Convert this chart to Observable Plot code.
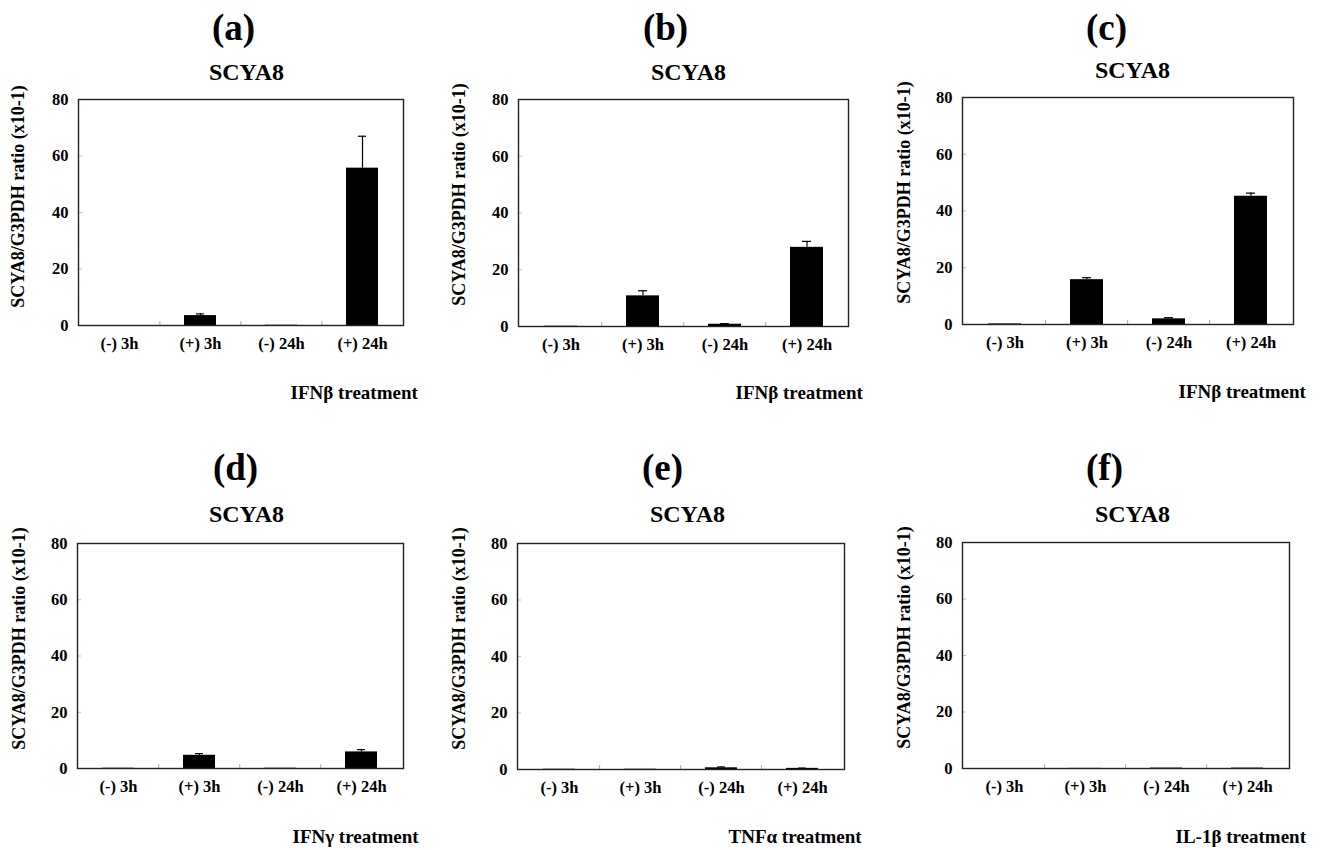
<!DOCTYPE html>
<html><head><meta charset="utf-8">
<script src="https://cdn.jsdelivr.net/npm/d3@7"></script>
<script src="https://cdn.jsdelivr.net/npm/@observablehq/plot@0.6"></script>
<style>
body{margin:0;background:#fff;}
#root{position:relative;width:1323px;height:850px;overflow:hidden;background:#fff;}
.panel{position:absolute;}
.panel svg{overflow:visible;}
</style></head><body><div id="root"></div>
<script>
// ---- data ----
const categories = ["(-) 3h", "(+) 3h", "(-) 24h", "(+) 24h"];
const panelLetters = ["(a)", "(b)", "(c)", "(d)", "(e)", "(f)"];
const geneTitle = "SCYA8";
const yLabel = "SCYA8/G3PDH ratio (x10-1)";
const treatments = ["IFNβ treatment", "IFNβ treatment", "IFNβ treatment", "IFNγ treatment", "TNFα treatment", "IL-1β treatment"];
const yTicks = [0, 20, 40, 60, 80];

const meanA = [0, 3.5, 0.1, 55.7];
const errA  = [0, 0.6, 0, 11.3];
const meanB = [0.1, 10.8, 0.8, 27.9];
const errB  = [0, 1.8, 0.2, 2.1];
const meanC = [0.2, 15.8, 2.0, 45.2];
const errC  = [0, 0.7, 0.4, 1.1];
const meanD = [0.1, 4.7, 0.1, 5.9];
const errD  = [0, 0.6, 0, 0.8];
const meanE = [0.1, 0.1, 0.6, 0.4];
const errE  = [0, 0, 0.3, 0.1];
const meanF = [0, 0.05, 0.15, 0.15];
const errF  = [0, 0, 0, 0];

const means = [meanA, meanB, meanC, meanD, meanE, meanF];
const errs = [errA, errB, errC, errD, errE, errF];

// ---- layout (page pixel positions) ----
const layout = [
  {cell:[0,0,440,430],   frame:[78,99,403,325],   title:[233,28],  sub:[246,72],  ylab:[18,196],  trt:[290,392]},
  {cell:[440,0,440,430], frame:[518,99,848,326],  title:[665,28],  sub:[688,72],  ylab:[459,194], trt:[735,392]},
  {cell:[880,0,443,430], frame:[962,97,1293,324], title:[1106,28], sub:[1132,70], ylab:[904,192], trt:[1178,391]},
  {cell:[0,440,440,410],   frame:[77,543,403,768],  title:[235,468],  sub:[246,514],  ylab:[19,638],  trt:[292,836]},
  {cell:[440,440,440,410], frame:[517,543,844,769], title:[662,468],  sub:[687,514],  ylab:[459,638], trt:[728,836]},
  {cell:[880,440,443,410], frame:[962,542,1289,768], title:[1104,468], sub:[1132,514], ylab:[904,637], trt:[1175,836]}
];

const font = "'Liberation Serif','Times New Roman',Times,serif";
const root = document.getElementById("root");

layout.forEach((L, i) => {
  const [cx, cy, cw, ch] = L.cell;
  const [fl, ft, fr, fb] = L.frame;
  const rows = categories.map((c, j) => ({cat: c, value: means[i][j], err: errs[i][j]}));
  const errRows = rows.filter(d => d.err > 0);
  const fw = fr - fl;
  const step = fw / categories.length;
  const fh = fb - ft;
  const at = (p) => ({frameAnchor: "top-left", dx: p[0] - fl, dy: p[1] - ft});

  const chart = Plot.plot({
    width: cw, height: ch,
    marginLeft: fl - cx, marginTop: ft - cy, marginRight: cx + cw - fr, marginBottom: cy + ch - fb,
    style: {fontFamily: font, fontWeight: "bold", fontSize: "16px", color: "#000", background: "#fff", overflow: "visible"},
    x: {type: "band", domain: categories, paddingInner: 0.6, paddingOuter: 0.3},
    y: {domain: [0, 80]},
    marks: [
      Plot.barY(rows, {x: "cat", y: "value", fill: "#000"}),
      Plot.ruleX(errRows, {x: "cat", y1: "value", y2: d => d.value + d.err, stroke: "#000", strokeWidth: 1.2}),
      Plot.tickY(errRows, {x: "cat", y: d => d.value + d.err, stroke: "#000", strokeWidth: 1.2, inset: 12}),
      Plot.ruleX(categories.slice(1), {x: d => d, dx: -step / 2, insetTop: fh - 4, stroke: "#aaa"}),
      Plot.ruleY(yTicks.slice(1, -1), {y: d => d, insetRight: fw - 4, stroke: "#bbb"}),
      Plot.frame({stroke: "#222", strokeWidth: 1.4}),
      Plot.axisX({tickSize: 0, tickPadding: 12, label: null, fontSize: 16.5}),
      Plot.axisY({ticks: yTicks, tickSize: 0, tickPadding: 10, label: null, tickFormat: d => d, fontSize: 16.5}),
      Plot.text([panelLetters[i]], {...at(L.title), text: d => d, textAnchor: "middle", lineAnchor: "middle", fontSize: 37, fontWeight: "bold"}),
      Plot.text([geneTitle], {...at(L.sub), text: d => d, textAnchor: "middle", lineAnchor: "middle", fontSize: 24, fontWeight: "bold"}),
      Plot.text([yLabel], {...at(L.ylab), text: d => d, rotate: -90, textAnchor: "middle", lineAnchor: "middle", fontSize: 18, fontWeight: "bold"}),
      Plot.text([treatments[i]], {...at(L.trt), text: d => d, textAnchor: "start", lineAnchor: "middle", fontSize: 19, fontWeight: "bold"})
    ]
  });
  const div = document.createElement("div");
  div.className = "panel";
  div.style.left = cx + "px";
  div.style.top = cy + "px";
  div.appendChild(chart);
  root.appendChild(div);
});
</script></body></html>
